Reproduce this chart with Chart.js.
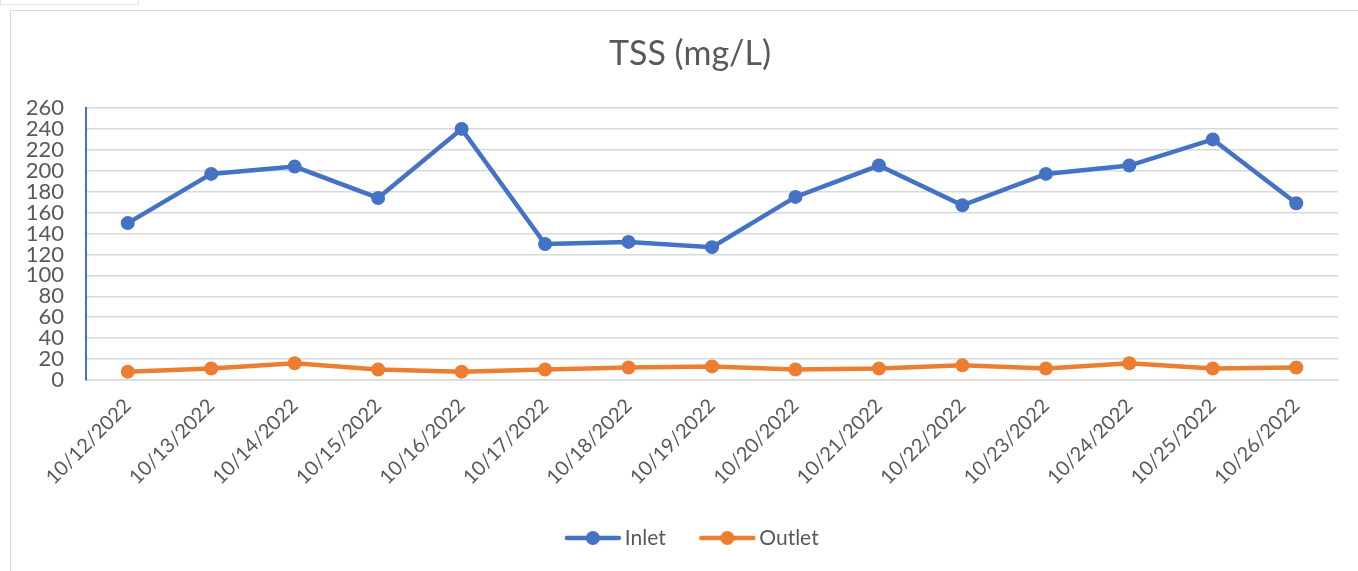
<!DOCTYPE html>
<html>
<head>
<meta charset="utf-8">
<script src="https://cdn.jsdelivr.net/npm/chart.js@4.4.1/dist/chart.umd.min.js"></script>
<style>
  body { margin: 0; background: #fff; overflow: hidden; }
  #frame { position: absolute; left: 10px; top: 10px; width: 1360px; height: 570px; border: 1.5px solid #d9d9d9; }
  #tab { position: absolute; left: 0; top: -1px; width: 137px; height: 5px; border: 1px solid #e3e3e3; border-top: none; }
  #wrap { position: absolute; left: 0; top: 0; width: 1380px; height: 571px; }
</style>
</head>
<body>
<div id="tab"></div>
<div id="frame"></div>
<div id="wrap"><canvas id="tssChart"></canvas></div>
<script>
// data
const dates = ['10/12/2022', '10/13/2022', '10/14/2022', '10/15/2022', '10/16/2022',
               '10/17/2022', '10/18/2022', '10/19/2022', '10/20/2022', '10/21/2022',
               '10/22/2022', '10/23/2022', '10/24/2022', '10/25/2022', '10/26/2022'];
const inlet  = [150, 197, 204, 174, 240, 130, 132, 127, 175, 205, 167, 197, 205, 230, 169];
const outlet = [8, 11, 16, 10, 8, 10, 12, 13, 10, 11, 14, 11, 16, 11, 12];
const yTicks = [0, 20, 40, 60, 80, 100, 120, 140, 160, 180, 200, 220, 240, 260];

const blue = '#4472C4';
const orange = '#ED7D31';
const textColor = '#595959';
const fontFamily = 'Lato, "Open Sans", sans-serif';

// legend marker: line with a dot, drawn at the right end of a wider transparent image
function legendMarker(color) {
    const c = document.createElement('canvas');
    c.width = 68;
    c.height = 16;
    const g = c.getContext('2d');
    const x0 = c.width - 58;
    g.strokeStyle = color;
    g.lineWidth = 4.5;
    g.lineCap = 'round';
    g.beginPath();
    g.moveTo(x0 + 3, 8);
    g.lineTo(x0 + 55, 8);
    g.stroke();
    g.fillStyle = color;
    g.beginPath();
    g.arc(x0 + 29, 8, 7, 0, Math.PI * 2);
    g.fill();
    return c;
}
const markers = [legendMarker(blue), legendMarker(orange)];

const ctx = document.getElementById('tssChart').getContext('2d');
const tssChart = new Chart(ctx, {
    type: 'line',
    data: {
        labels: dates,
        datasets: [{
            label: 'Inlet',
            data: inlet,
            yAxisID: 'y',
            borderColor: blue,
            backgroundColor: blue,
            borderWidth: 4.5,
            pointRadius: 7,
            pointBorderWidth: 0,
            tension: 0
        }, {
            label: 'Outlet',
            data: outlet,
            yAxisID: 'y',
            borderColor: orange,
            backgroundColor: orange,
            borderWidth: 4.5,
            pointRadius: 7,
            pointBorderWidth: 0,
            tension: 0
        }]
    },
    options: {
        responsive: true,
        maintainAspectRatio: false,
        animation: false,
        layout: { padding: { top: 34, right: 0, bottom: 12.5, left: 0 } },
        plugins: {
            title: {
                display: true,
                text: 'TSS (mg/L)',
                color: textColor,
                font: { family: fontFamily, size: 34, weight: 'normal' },
                padding: { top: 0, bottom: 33.2 }
            },
            legend: {
                position: 'bottom',
                labels: {
                    color: textColor,
                    font: { family: fontFamily, size: 21 },
                    usePointStyle: true,
                    pointStyleWidth: 53,
                    padding: 30,
                    generateLabels: (chart) => {
                        const items = Chart.defaults.plugins.legend.labels.generateLabels(chart);
                        items.forEach((it, i) => { it.pointStyle = markers[i]; });
                        return items;
                    }
                }
            },
            tooltip: { enabled: false }
        },
        scales: {
            x: {
                offset: true,
                grid: { display: false },
                border: { color: '#d9d9d9', width: 1.5 },
                ticks: {
                    color: textColor,
                    font: { family: fontFamily, size: 20 },
                    minRotation: 45,
                    maxRotation: 45,
                    autoSkip: false,
                    padding: 6
                },
                afterFit: (scale) => { scale.height = 117.5; }
            },
            y: {
                min: 0,
                max: 260,
                afterBuildTicks: (scale) => { scale.ticks = yTicks.map(v => ({ value: v })); },
                grid: { color: '#d9d9d9', lineWidth: 1.5, drawTicks: false },
                border: { color: blue, width: 2 },
                ticks: {
                    color: textColor,
                    font: { family: fontFamily, size: 22 },
                    autoSkip: false,
                    padding: 22
                },
                afterFit: (scale) => { scale.width = 86; }
            },
            // empty right-hand axis, only keeps the gap on the right of the plot
            yr: {
                position: 'right',
                min: 0,
                max: 260,
                grid: { display: false },
                border: { display: false },
                ticks: { display: false },
                afterFit: (scale) => { scale.width = 42; }
            }
        }
    }
});
</script>
</body>
</html>
